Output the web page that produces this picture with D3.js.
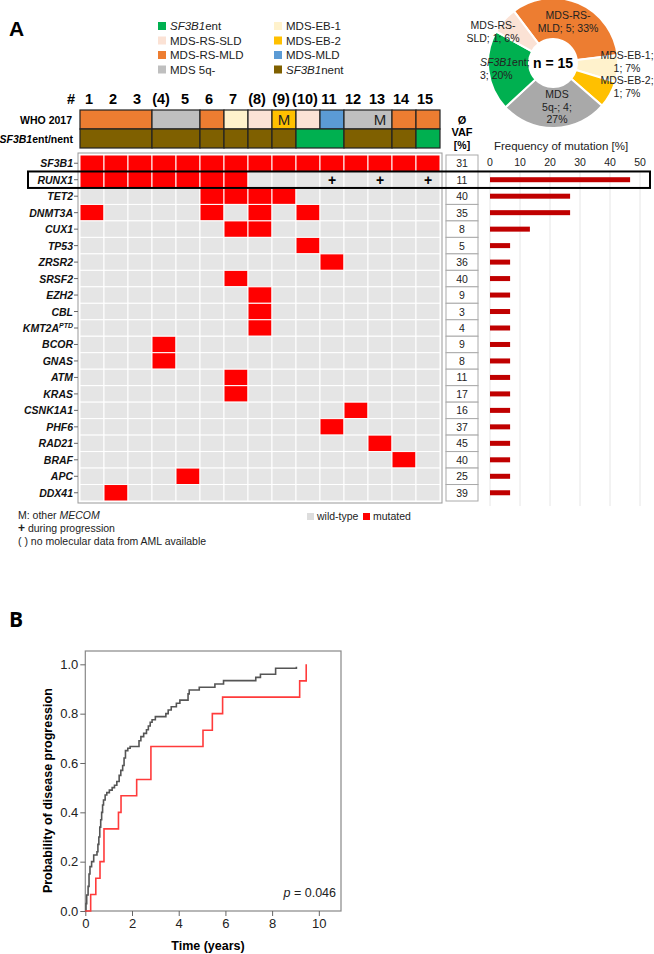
<!DOCTYPE html>
<html><head><meta charset="utf-8">
<script src="https://cdn.jsdelivr.net/npm/d3@7"></script>
<style>body{margin:0;background:#fff} svg{display:block;font-family:"Liberation Sans",Arial,sans-serif}</style>
</head><body><svg id="c" width="654" height="954"></svg>
<script>
// ---------------- DATA ----------------
const patients = ["1","2","3","(4)","5","6","7","(8)","(9)","(10)","11","12","13","14","15"];
const whoCat = ["RS-MLD","RS-MLD","RS-MLD","5q","5q","RS-MLD","EB-1","RS-SLD","EB-2","RS-SLD","MLD","5q","5q","RS-MLD","RS-MLD"];
const whoGroups = [[1,3],[4,5],[6,6],[7,7],[8,8],[9,9],[10,10],[11,11],[12,13],[14,14],[15,15]];
const sf3b1Cat = ["nent","nent","nent","nent","nent","nent","nent","nent","nent","ent","ent","nent","nent","nent","ent"];
const sf3b1Groups = [[1,3],[4,5],[6,6],[7,7],[8,8],[9,9],[10,11],[12,13],[14,14],[15,15]];
const mecomCols = [9,13];
const genes = ["SF3B1","RUNX1","TET2","DNMT3A","CUX1","TP53","ZRSR2","SRSF2","EZH2","CBL","KMT2A","BCOR","GNAS","ATM","KRAS","CSNK1A1","PHF6","RAD21","BRAF","APC","DDX41"];
const mutatedCols = [
  [1,2,3,4,5,6,7,8,9,10,11,12,13,14,15],
  [1,2,3,4,5,6,7],
  [6,7,8,9],
  [1,6,8,10],
  [7,8],
  [10],
  [11],
  [7],
  [8],
  [8],
  [8],
  [4],
  [4],
  [7],
  [7],
  [12],
  [11],
  [13],
  [14],
  [5],
  [2]
];
const progressionCols = [11,13,15]; // RUNX1 "+" during progression
const vaf = [31,11,40,35,8,5,36,40,9,3,4,9,8,11,17,16,37,45,40,25,39];
const freq = [null,46.7,26.7,26.7,13.3,6.7,6.7,6.7,6.7,6.7,6.7,6.7,6.7,6.7,6.7,6.7,6.7,6.7,6.7,6.7,6.7];
const freqTicks = [0,10,20,30,40,50];

const legendKeys = ["ent","RS-SLD","RS-MLD","5q","EB-1","EB-2","MLD","nent"];
const legendLabels = ["SF3B1|ent","MDS-RS-SLD","MDS-RS-MLD","MDS 5q-","MDS-EB-1","MDS-EB-2","MDS-MLD","SF3B1|nent"];

const pieKeys = ["RS-MLD","EB-1","EB-2","5q","ent","RS-SLD"];
const pieValues = [5,1,1,4,3,1];
const pieLines = [["MDS-RS-","MLD; 5; 33%"],["MDS-EB-1;","1; 7%"],["MDS-EB-2;","1; 7%"],["MDS","5q-; 4;","27%"],["SF3B1|ent;","3; 20%"],["MDS-RS-","SLD; 1; 6%"]];

const kmYTicks = [0,0.2,0.4,0.6,0.8,1.0];
const kmXTicks = [0,2,4,6,8,10];
const redSteps = [[0,0],[0.23,0.067],[0.45,0.133],[0.63,0.2],[0.80,0.333],[1.42,0.4],[1.53,0.467],[2.2,0.533],[2.81,0.667],[5.04,0.733],[5.44,0.8],[5.88,0.867],[9.18,0.933],[9.46,1.0]];
const graySteps = [[0,0],[0.03,0.03],[0.06,0.065],[0.12,0.1],[0.16,0.15],[0.2,0.18],[0.27,0.2],[0.36,0.227],[0.5,0.24],[0.54,0.27],[0.58,0.3],[0.62,0.34],[0.66,0.37],[0.7,0.4],[0.74,0.43],[0.78,0.45],[0.85,0.47],[0.92,0.48],[1.03,0.49],[1.15,0.5],[1.25,0.51],[1.35,0.525],[1.45,0.55],[1.52,0.57],[1.6,0.59],[1.66,0.62],[1.72,0.65],[1.82,0.66],[1.92,0.667],[2.3,0.69],[2.38,0.707],[2.5,0.72],[2.62,0.735],[2.7,0.75],[2.78,0.765],[2.86,0.775],[3.0,0.788],[3.45,0.8],[3.55,0.815],[3.68,0.828],[3.9,0.842],[4.05,0.855],[4.4,0.88],[4.45,0.896],[4.88,0.907],[5.55,0.92],[5.92,0.934],[7.3,0.947],[7.5,0.96],[8.15,0.984],[9.04,0.99]];

// ---------------- STYLE ----------------
const colors = {"ent":"#00B050","RS-SLD":"#FBE2D5","RS-MLD":"#ED7D31","5q":"#BFBFBF","EB-1":"#FFF2CC","EB-2":"#FFC000","MLD":"#5B9BD5","nent":"#7F6000"};
const pieColors = Object.assign({}, colors, {"5q":"#A9A9A9"});
const svg = d3.select("#c");

function richText(sel, label){ // "A|B" -> A italic, B normal
  const p = label.split("|");
  if(p.length===2){ sel.append("tspan").attr("font-style","italic").text(p[0]); sel.append("tspan").text(p[1]); }
  else sel.text(label);
}

// Panel letters
svg.append("text").attr("x",9).attr("y",36).attr("font-size",21).attr("font-weight","bold").text("A");
svg.append("text").attr("x",9).attr("y",627).attr("font-size",21).attr("font-weight","bold").attr("font-family","'Open Sans',sans-serif").text("B");

// Legend
const legX = d3.scaleOrdinal().domain([0,1]).range([158,274]);
legendKeys.forEach((k,i)=>{
  const col = Math.floor(i/4), row = i%4;
  const g = svg.append("g").attr("transform",`translate(${legX(col)},${26+row*14.5})`);
  g.append("rect").attr("x",0).attr("y",-4).attr("width",8).attr("height",8).attr("fill",colors[k]);
  const t = g.append("text").attr("x",12).attr("y",4).attr("font-size",11.5).attr("fill","#222");
  richText(t, legendLabels[i]);
});

// Oncoprint scales
const xCol = d3.scaleBand().domain(d3.range(1,16)).range([80,440]);
const yRow = d3.scaleBand().domain(genes).range([155,501]);

// Column numbers
svg.append("text").attr("x",71).attr("y",104).attr("text-anchor","middle").attr("font-size",14.5).attr("font-weight","bold").text("#");
patients.forEach((p,i)=>{
  svg.append("text").attr("x",xCol(i+1)+xCol.bandwidth()/2-3).attr("y",104).attr("text-anchor","middle")
    .attr("font-size",14.5).attr("font-weight","bold").text(p);
});

// Header rows
const whoY = 110, whoH = 19, sfY = 129, sfH = 19;
svg.append("text").attr("x",72).attr("y",whoY+whoH/2+4).attr("text-anchor","end").attr("font-size",10.5).attr("font-weight","bold").text("WHO 2017");
const sfl = svg.append("text").attr("x",73).attr("y",sfY+sfH/2+4).attr("text-anchor","end").attr("font-size",10.5).attr("font-weight","bold");
richText(sfl,"SF3B1|ent/nent");
whoGroups.forEach(([a,b])=>{
  svg.append("rect").attr("x",xCol(a)).attr("y",whoY).attr("width",xCol(b)+xCol.bandwidth()-xCol(a)).attr("height",whoH)
    .attr("fill",colors[whoCat[a-1]]).attr("stroke","#222").attr("stroke-width",1.2);
});
sf3b1Groups.forEach(([a,b])=>{
  svg.append("rect").attr("x",xCol(a)).attr("y",sfY).attr("width",xCol(b)+xCol.bandwidth()-xCol(a)).attr("height",sfH)
    .attr("fill",colors[sf3b1Cat[a-1]]).attr("stroke","#222").attr("stroke-width",1.2);
});
mecomCols.forEach(c=>{
  svg.append("text").attr("x",xCol(c)+xCol.bandwidth()/2).attr("y",whoY+whoH/2+5.5).attr("text-anchor","middle").attr("font-size",15).attr("fill","#222").text("M");
});

// Grid frame
svg.append("rect").attr("x",78).attr("y",153).attr("width",364).attr("height",350).attr("fill","#fff").attr("stroke","#999").attr("stroke-width",1);
genes.forEach((g,r)=>{
  d3.range(1,16).forEach(c=>{
    const m = mutatedCols[r].includes(c);
    svg.append("rect").attr("x",xCol(c)).attr("y",yRow(g)).attr("width",xCol.bandwidth()).attr("height",yRow.bandwidth())
      .attr("fill",m?"#FF0000":"#E5E5E5").attr("stroke","#fff").attr("stroke-width",1);
  });
  svg.append("line").attr("x1",74).attr("x2",78).attr("y1",yRow(g)+yRow.bandwidth()/2).attr("y2",yRow(g)+yRow.bandwidth()/2).attr("stroke","#666");
  const t = svg.append("text").attr("x",73).attr("y",yRow(g)+yRow.bandwidth()/2+4).attr("text-anchor","end")
    .attr("font-size",10.5).attr("font-weight","bold").attr("font-style","italic").attr("fill","#111");
  if(g==="KMT2A"){ t.append("tspan").text("KMT2A"); t.append("tspan").attr("font-size",7).attr("dy",-4).text("PTD"); }
  else t.text(g);
});
progressionCols.forEach(c=>{
  svg.append("text").attr("x",xCol(c)+xCol.bandwidth()/2).attr("y",yRow("RUNX1")+yRow.bandwidth()/2+5).attr("text-anchor","middle")
    .attr("font-size",14).attr("font-weight","bold").text("+");
});

// VAF column
svg.append("text").attr("x",462).attr("y",124).attr("text-anchor","middle").attr("font-size",11).attr("font-weight","bold").text("Ø");
svg.append("text").attr("x",462).attr("y",136).attr("text-anchor","middle").attr("font-size",11).attr("font-weight","bold").text("VAF");
svg.append("text").attr("x",462).attr("y",149).attr("text-anchor","middle").attr("font-size",10.5).attr("font-weight","bold").text("[%]");
genes.forEach((g,r)=>{
  svg.append("rect").attr("x",446).attr("y",yRow(g)).attr("width",32).attr("height",yRow.bandwidth()).attr("fill","#fff").attr("stroke","#aaa").attr("stroke-width",1);
  svg.append("text").attr("x",462).attr("y",yRow(g)+yRow.bandwidth()/2+4).attr("text-anchor","middle").attr("font-size",10.5).attr("fill","#222").text(vaf[r]);
});

// Frequency chart
const xF = d3.scaleLinear().domain([0,50]).range([490,640]);
svg.append("text").attr("x",561).attr("y",150).attr("text-anchor","middle").attr("font-size",11.5).attr("fill","#222").text("Frequency of mutation [%]");
freqTicks.forEach(v=>{
  svg.append("line").attr("x1",xF(v)).attr("x2",xF(v)).attr("y1",172).attr("y2",506).attr("stroke","#e6e6e6").attr("stroke-width",1);
  svg.append("text").attr("x",xF(v)).attr("y",166).attr("text-anchor","middle").attr("font-size",10.5).attr("fill","#222").text(v);
});
genes.forEach((g,r)=>{
  if(freq[r]==null) return;
  svg.append("rect").attr("x",xF(0)).attr("y",yRow(g)+yRow.bandwidth()/2-2.5).attr("width",xF(freq[r])-xF(0)).attr("height",5).attr("fill","#C00000");
});

// RUNX1 highlight
svg.append("rect").attr("x",28).attr("y",yRow("RUNX1")).attr("width",622).attr("height",yRow.bandwidth()).attr("fill","none").attr("stroke","#000").attr("stroke-width",2);

// Bottom notes
const n1 = svg.append("text").attr("x",18).attr("y",519).attr("font-size",10.5).attr("fill","#222");
n1.append("tspan").text("M: other "); n1.append("tspan").attr("font-style","italic").text("MECOM");
const n2 = svg.append("text").attr("x",18).attr("y",532).attr("font-size",10.5).attr("fill","#222");
n2.append("tspan").attr("font-weight","bold").attr("font-size",12).text("+"); n2.append("tspan").text(" during progression");
svg.append("text").attr("x",18).attr("y",545).attr("font-size",10.5).attr("fill","#222").text("( ) no molecular data from AML available");
svg.append("rect").attr("x",307).attr("y",513).attr("width",7).attr("height",7).attr("fill","#DDDDDD");
svg.append("text").attr("x",317).attr("y",520).attr("font-size",10.5).attr("fill","#222").text("wild-type");
svg.append("rect").attr("x",363).attr("y",513).attr("width",7).attr("height",7).attr("fill","#FF0000");
svg.append("text").attr("x",373).attr("y",520).attr("font-size",10.5).attr("fill","#222").text("mutated");

// Donut
const cx = 553, cy = 63;
const start = -37*Math.PI/180;
const pie = d3.pie().sort(null).startAngle(start).endAngle(start+2*Math.PI);
const arcs = pie(pieValues);
const arc = d3.arc().innerRadius(24).outerRadius(65);
const dg = svg.append("g").attr("transform",`translate(${cx},${cy})`);
dg.selectAll("path").data(arcs).join("path").attr("d",arc).attr("fill",(d,i)=>pieColors[pieKeys[i]]).attr("stroke","#fff").attr("stroke-width",2);
dg.append("text").attr("x",0).attr("y",5).attr("text-anchor","middle").attr("font-size",14).attr("font-weight","bold").text("n = 15");
const pieLabelPos = [[15,-44,"middle"],[74,-4,"middle"],[74,21,"middle"],[4,35,"middle"],[-73,3,"start"],[-60,-34,"middle"]];
pieLines.forEach((lines,i)=>{
  const [px,py,anc] = pieLabelPos[i];
  lines.forEach((ln,j)=>{
    const t = dg.append("text").attr("x",px).attr("y",py+j*12.5).attr("text-anchor",anc).attr("font-size",10.5).attr("fill","#222");
    richText(t, ln);
  });
});

// KM plot
const xK = d3.scaleLinear().domain([0,10.95]).range([85.3,341]);
const yK = d3.scaleLinear().domain([0,1.054]).range([911,651]);
svg.append("rect").attr("x",xK(0)).attr("y",yK(1.054)).attr("width",xK(10.95)-xK(0)).attr("height",yK(0)-yK(1.054)).attr("fill","none").attr("stroke","#888").attr("stroke-width",1.2);
const ax = svg.append("g").attr("transform",`translate(0,${yK(0)})`).call(d3.axisBottom(xK).tickValues(kmXTicks).tickSize(5).tickPadding(3));
const ay = svg.append("g").attr("transform",`translate(${xK(0)},0)`).call(d3.axisLeft(yK).tickValues(kmYTicks).tickFormat(d3.format(".1f")).tickSize(5).tickPadding(2));
[ax,ay].forEach(a=>{ a.select(".domain").remove(); a.selectAll("line").attr("stroke","#666"); a.selectAll("text").attr("font-size",13).attr("fill","#222").attr("font-family","'Liberation Sans',Arial,sans-serif"); });
const line = d3.line().x(d=>xK(d[0])).y(d=>yK(d[1])).curve(d3.curveStepAfter);
svg.append("path").datum(graySteps).attr("d",line).attr("fill","none").attr("stroke","#555").attr("stroke-width",1.6);
svg.append("path").datum(redSteps).attr("d",line).attr("fill","none").attr("stroke","#FF3B3B").attr("stroke-width",1.6);
svg.append("text").attr("x",208).attr("y",950).attr("text-anchor","middle").attr("font-size",12.5).attr("font-weight","bold").text("Time (years)");
svg.append("text").attr("transform",`translate(52,${(yK(0)+yK(1))/2+3}) rotate(-90)`).attr("text-anchor","middle").attr("font-size",12.5).attr("font-weight","bold").text("Probability of disease progression");
const pt = svg.append("text").attr("x",336).attr("y",897).attr("text-anchor","end").attr("font-size",12.5).attr("fill","#222");
pt.append("tspan").attr("font-style","italic").text("p"); pt.append("tspan").text(" = 0.046");
</script></body></html>
